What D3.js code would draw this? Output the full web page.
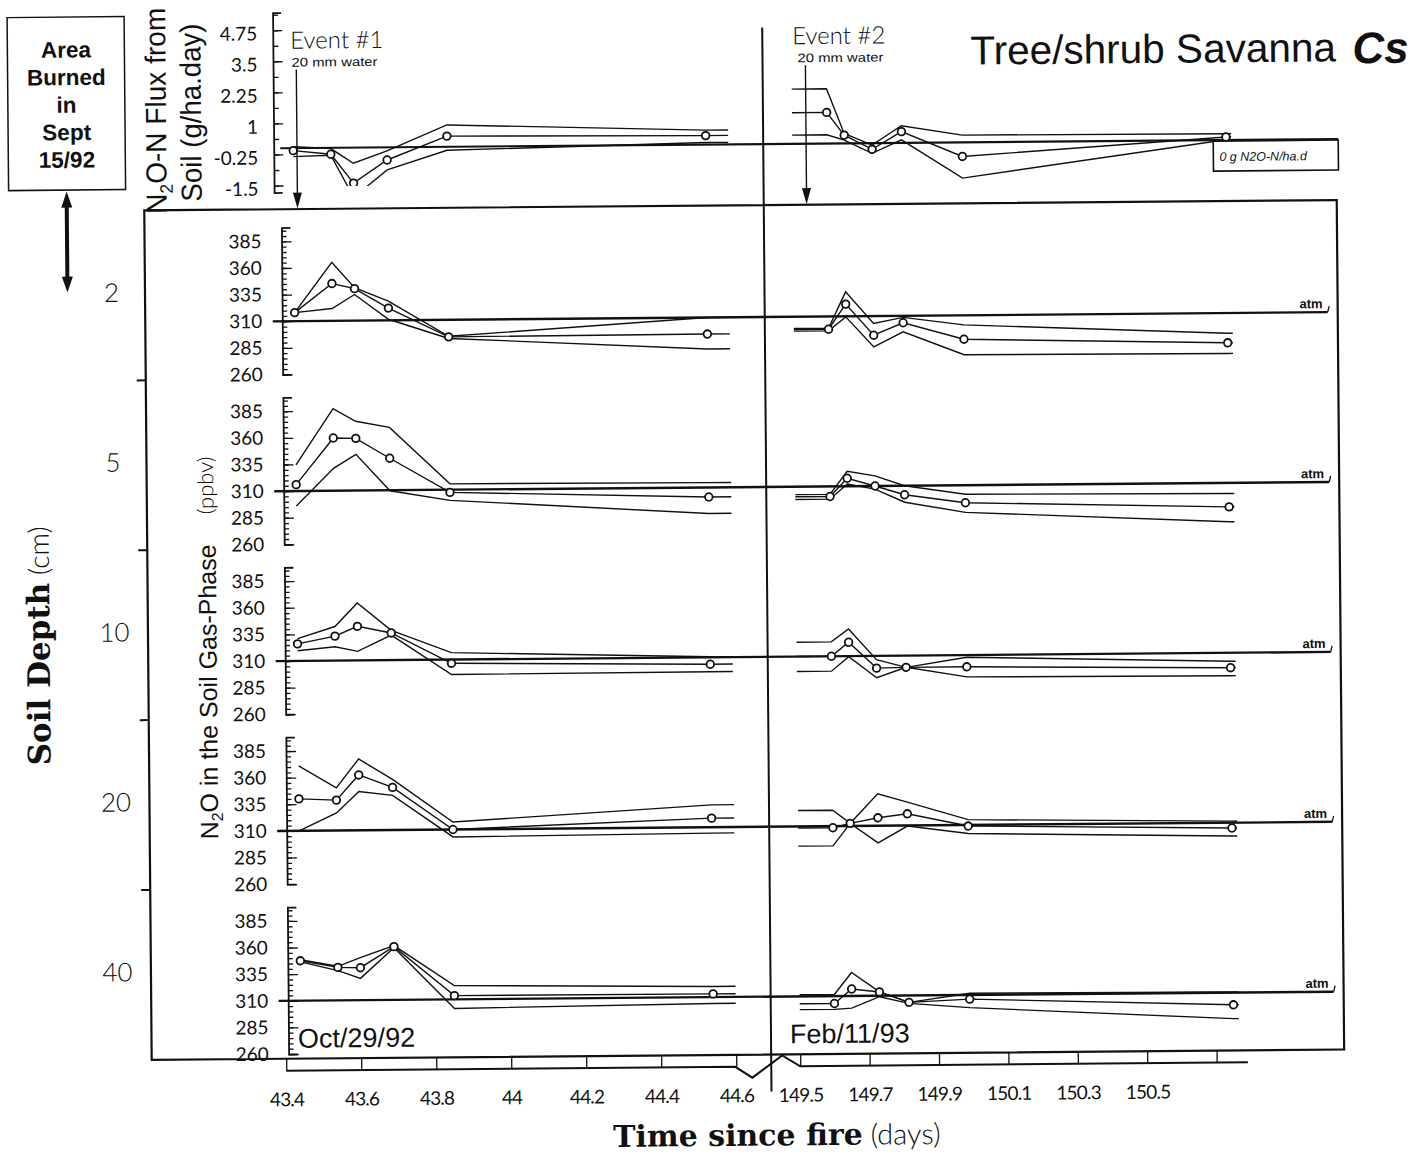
<!DOCTYPE html>
<html>
<head>
<meta charset="utf-8">
<script src="https://cdn.jsdelivr.net/npm/d3@7"></script>
<style>
  body { margin: 0; background: #fff; }
  svg { display: block; }
  text { fill: #111; }
  .hand { font-family: Lato, 'DejaVu Sans', sans-serif; font-weight: 300; }
  .sans { font-family: 'Liberation Sans', Arial, sans-serif; }
  .serif { font-family: 'DejaVu Serif', serif; font-weight: bold; }
  .axis path, .axis line { stroke: #111; }
  .axis path { stroke-width: 1.8; }
  .axis line { stroke-width: 1.3; }
  .axis text { font-family: Lato, 'DejaVu Sans', sans-serif; font-weight: 400; font-size: 19px; fill: #111; }
  .xaxis text { letter-spacing: -0.8px; }
</style>
</head>
<body>
<script>
// sampling times, days since fire
const days1 = [43.44, 43.54, 43.60, 43.69, 43.85, 44.54]
const days2 = [149.60, 149.65, 149.73, 149.815, 149.99, 150.75]
const lead2 = 149.5
const tail1 = 44.6
const tail2 = 150.765
const eventDays = [43.45, 149.54]
const eventNames = ['Event #1', 'Event #2']

const depths = ['2', '5', '10', '20', '40']
const ppbvTicks = [260, 285, 310, 335, 360, 385]
const fluxTicks = [-1.5, -0.25, 1, 2.25, 3.5, 4.75]
const leftTicks = [43.4, 43.6, 43.8, 44, 44.2, 44.4, 44.6]
const rightTicks = [149.5, 149.7, 149.9, 150.1, 150.3, 150.5, 150.7]
const rightTickLabels = ['149.5', '149.7', '149.9', '150.1', '150.3', '150.5', '']
const atm = 310

// N2O-N flux from soil (g/ha.day)
const fluxMean1 = [-0.1, -0.26, -1.43, -0.51, 0.43, 0.36]
const fluxUpper1 = [0.06, -0.03, -0.63, -0.14, 0.88, 0.58]
const fluxLower1 = [-0.34, -0.30, -2.0, -0.91, -0.14, 0.08]
const fluxMean2 = [1.25, 0.33, -0.25, 0.45, -0.57, 0.12]
const fluxUpper2 = [2.2, 0.4, -0.08, 0.69, 0.29, 0.25]
const fluxLower2 = [0.35, 0.13, -0.41, 0.12, -1.44, 0.01]

// N2O in soil gas (ppbv), one row per depth
const mean1 = [
  [318, 345, 340, 321.5, 294, 294.5],
  [316, 359.5, 359, 340, 307.5, 301],
  [326, 333, 342, 335.5, 306.5, 303.5],
  [340, 338.5, 362, 350, 310, 318.5],
  [347.5, 341, 340.5, 360, 313.5, 313]
]
const upper1 = [
  [318, 365, 341, 328, 294.5, 310],
  [334.5, 387, 375, 369, 315.5, 314.5],
  [331, 342, 364, 338, 316.5, 310.5],
  [371, 350, 377, 357.5, 317, 331],
  [348.5, 342, 350, 361, 323, 320]
]
const lower1 = [
  [318, 321.5, 334.5, 311, 292.5, 280.5],
  [296, 331, 344, 309.5, 300, 285.5],
  [319.5, 323, 318.5, 333.5, 296, 296.5],
  [310, 326.5, 346.5, 342.5, 303, 304.5],
  [346.5, 338, 330.5, 359, 301.5, 304]
]
const mean2 = [
  [298, 321.5, 292, 303.5, 287.5, 282],
  [300.5, 317.5, 310, 301.5, 293.5, 287.5],
  [310, 323, 298.5, 299, 299, 296],
  [308.5, 312.5, 317.5, 321, 309, 305],
  [303, 316.5, 313.5, 303.5, 306, 298.5]
]
const upper2 = [
  [299, 333, 303, 308.5, 301, 291],
  [302.5, 324, 319.5, 310, 301.5, 300],
  [323.5, 335.5, 306.5, 299, 308, 302],
  [325, 312.5, 340, 332, 315, 311.5],
  [311.5, 332, 313.5, 303.5, 311.5, 310.5]
]
const lower2 = [
  [296.5, 309.5, 281, 295, 273, 272],
  [298, 312, 307, 294.5, 284.5, 273.5],
  [296, 309.5, 289.5, 299, 289.5, 288.5],
  [291.5, 312.5, 294, 309.5, 302, 297.5],
  [297.5, 298.5, 309, 302.5, 298, 285.5]
]

const boxLines = ['Area', 'Burned', 'in', 'Sept', '15/92']

const svg = d3.select('body').append('svg').attr('width', 1424).attr('height', 1154)
// the scanned original sits a little crooked
const root = svg.append('g').attr('transform', 'rotate(-0.5,712,577)')

const frame = { left: 147.5, right: 1340, top: 205.5, bottom: 1055 }
const x1 = d3.scaleLinear().domain([43.4, 44.6]).range([282, 732])
const x2 = d3.scaleLinear().domain([149.5, 150.5]).range([796, 1143])
const band = d3.scaleBand().domain(depths).range([frame.top, frame.bottom])
const yFlux = d3.scaleLinear().domain([0, 1]).range([144.5, 119.65])
const panelY = d => {
  const b = band(d) + 112
  return d3.scaleLinear().domain([260, 398]).range([b + 53.25, b - 93.7])
}
const axisX = 284.5
const fluxAxisX = 278

function seriesPts (days, vals, lead, tail) {
  const pts = days.map((t, i) => [t, vals[i]])
  if (lead != null) pts.unshift([lead, vals[0]])
  pts.push([tail, vals[vals.length - 1]])
  return pts
}

function drawSet (sel, x, y, days, mean, upper, lower, lead, tail) {
  const line = d3.line().x(d => x(d[0])).y(d => y(d[1]))
  ;[upper, lower, mean].forEach(v => {
    sel.append('path')
      .attr('d', line(seriesPts(days, v, lead, tail)))
      .attr('fill', 'none')
      .attr('stroke', '#111')
      .attr('stroke-width', 1.4)
  })
  sel.selectAll(null).data(days).enter().append('circle')
    .attr('cx', d => x(d))
    .attr('cy', (d, i) => y(mean[i]))
    .attr('r', 3.8)
    .attr('fill', '#fff')
    .attr('stroke', '#111')
    .attr('stroke-width', 1.8)
}

// left box
root.append('rect').attr('x', 12).attr('y', 11.5).attr('width', 117).attr('height', 173)
  .attr('fill', 'none').attr('stroke', '#111').attr('stroke-width', 1.5)
root.selectAll(null).data(boxLines).enter().append('text')
  .attr('class', 'sans')
  .attr('x', 70.6)
  .attr('y', (d, i) => 52 + i * 27.5)
  .attr('text-anchor', 'middle')
  .attr('font-size', 22.5)
  .attr('font-weight', 'bold')
  .text(d => d)

// double arrow
root.append('line').attr('x1', 70).attr('x2', 70).attr('y1', 198).attr('y2', 275)
  .attr('stroke', '#111').attr('stroke-width', 4)
root.append('path').attr('d', 'M70,186 L64.5,202 L75.5,202 Z M70,287 L64.5,271 L75.5,271 Z').attr('fill', '#111')

// title
root.append('text').attr('class', 'sans').attr('x', 975).attr('y', 66.8)
  .attr('font-size', 40.5).text('Tree/shrub Savanna')
root.append('text').attr('class', 'sans').attr('x', 1357).attr('y', 68.8)
  .attr('font-size', 44).attr('font-weight', 'bold').attr('font-style', 'italic').text('Cs')

// frame and divider
root.append('rect').attr('x', frame.left).attr('y', frame.top)
  .attr('width', frame.right - frame.left).attr('height', frame.bottom - frame.top)
  .attr('fill', 'none').attr('stroke', '#111').attr('stroke-width', 2.2)
root.append('line').attr('x1', 767).attr('x2', 767).attr('y1', 28).attr('y2', 1092)
  .attr('stroke', '#111').attr('stroke-width', 2)

// depth axis
root.selectAll(null).data(depths.slice(0, -1)).enter().append('line')
  .attr('x1', frame.left - 9).attr('x2', frame.left)
  .attr('y1', d => band(d) + band.bandwidth()).attr('y2', d => band(d) + band.bandwidth())
  .attr('stroke', '#111').attr('stroke-width', 2)
root.selectAll(null).data(depths).enter().append('text')
  .attr('class', 'hand')
  .attr('x', 114)
  .attr('y', d => band(d) + 82)
  .attr('dy', '0.35em')
  .attr('text-anchor', 'middle')
  .attr('font-size', 26)
  .text(d => d)

const depthTitle = root.append('text').attr('transform', 'translate(49,640) rotate(-90)')
  .attr('text-anchor', 'middle')
depthTitle.append('tspan').attr('class', 'serif').attr('font-size', 31).text('Soil Depth')
depthTitle.append('tspan').attr('class', 'hand').attr('font-size', 28).text(' (cm)')

// gas-phase axis title
const gasTitle = root.append('text').attr('class', 'sans')
  .attr('transform', 'translate(216,835) rotate(-90)')
  .attr('font-size', 25).attr('textLength', 295).attr('lengthAdjust', 'spacingAndGlyphs')
gasTitle.append('tspan').text('N')
gasTitle.append('tspan').attr('font-size', 16).attr('dy', 5).text('2')
gasTitle.append('tspan').attr('dy', -5).text('O in the Soil Gas-Phase')
root.append('text').attr('class', 'hand').attr('transform', 'translate(214,510) rotate(-90)')
  .attr('font-size', 22).text('(ppbv)')

// flux axis title
const fluxTitle1 = root.append('text').attr('class', 'sans')
  .attr('transform', 'translate(170,106) rotate(-90)')
  .attr('text-anchor', 'middle')
  .attr('font-size', 29).attr('textLength', 206).attr('lengthAdjust', 'spacingAndGlyphs')
fluxTitle1.append('tspan').text('N')
fluxTitle1.append('tspan').attr('font-size', 18).attr('dy', 6).text('2')
fluxTitle1.append('tspan').attr('dy', -6).text('O-N Flux from')
root.append('text').attr('class', 'sans')
  .attr('transform', 'translate(205,108) rotate(-90)')
  .attr('text-anchor', 'middle')
  .attr('font-size', 29).attr('textLength', 178).attr('lengthAdjust', 'spacingAndGlyphs')
  .text('Soil  (g/ha.day)')

// flux panel
const fluxAxis = root.append('g').attr('class', 'axis').attr('transform', `translate(${fluxAxisX},0)`)
fluxAxis.call(d3.axisLeft(yFlux.copy().domain([-1.5, 1]).range([yFlux(-1.5), yFlux(1)]))
  .tickValues(d3.range(-1.5, 5.4, 0.625)).tickSize(-5).tickSizeOuter(0).tickFormat(''))
fluxAxis.append('path')
  .attr('d', `M-8,${yFlux(5.44)}H0V${yFlux(-1.8)}H-8`)
  .attr('fill', 'none').attr('stroke', '#111').attr('stroke-width', 1.8)
  .attr('transform', 'scale(-1,1)')
fluxAxis.append('g')
  .call(d3.axisLeft(yFlux).tickValues(fluxTicks).tickSize(-9).tickPadding(16).tickFormat(d => String(d)))
  .call(g => g.select('.domain').remove())
  .call(g => g.selectAll('text').attr('dy', '0.5em'))
fluxAxis.select('.domain').remove()

root.append('line').attr('x1', 284).attr('x2', 1342)
  .attr('y1', yFlux(0)).attr('y2', yFlux(0))
  .attr('stroke', '#111').attr('stroke-width', 2.2)

root.append('clipPath').attr('id', 'fluxClip').append('rect')
  .attr('x', 276).attr('y', 8).attr('width', 1070).attr('height', yFlux(-1.55) - 8)
const fluxG = root.append('g').attr('clip-path', 'url(#fluxClip)')
drawSet(fluxG, x1, yFlux, days1, fluxMean1, fluxUpper1, fluxLower1, null, tail1)
drawSet(fluxG, x2, yFlux, days2, fluxMean2, fluxUpper2, fluxLower2, lead2, tail2)

root.append('rect').attr('x', 1217).attr('y', yFlux(0) + 1).attr('width', 125).attr('height', 30)
  .attr('fill', '#fff').attr('stroke', '#111').attr('stroke-width', 1.6)
root.append('text').attr('class', 'sans').attr('x', 1223).attr('y', yFlux(0) + 21)
  .attr('font-size', 12.5).attr('font-style', 'italic').text('0 g N2O-N/ha.d')

// events
const eventLabelX = [295, 797]
const waterLabelX = [296, 802]
eventDays.forEach((e, i) => {
  const x = i === 0 ? x1(e) : x2(e)
  root.append('line').attr('x1', x).attr('x2', x).attr('y1', 66).attr('y2', 192)
    .attr('stroke', '#111').attr('stroke-width', 1.4)
  root.append('path').attr('d', `M${x},205 L${x - 4.5},189 L${x + 4.5},189 Z`).attr('fill', '#111')
  root.append('text').attr('class', 'hand').attr('x', eventLabelX[i]).attr('y', 45)
    .attr('font-size', 24).text(eventNames[i])
  root.append('text').attr('class', 'sans').attr('x', waterLabelX[i]).attr('y', 63)
    .attr('font-size', 12.5).attr('textLength', 86).attr('lengthAdjust', 'spacingAndGlyphs')
    .text('20 mm water')
})

// gas-phase panels
depths.forEach((d, k) => {
  const y = panelY(d)
  const ax = root.append('g').attr('class', 'axis').attr('transform', `translate(${axisX},0)`)
  ax.call(d3.axisLeft(y).tickValues(d3.range(260, 396, 5)).tickSize(-5).tickSizeOuter(-9).tickFormat(''))
  ax.append('g')
    .call(d3.axisLeft(y).tickValues(ppbvTicks).tickSize(-10).tickPadding(20))
    .call(g => g.select('.domain').remove())

  root.append('line').attr('x1', 275).attr('x2', 1330)
    .attr('y1', y(atm)).attr('y2', y(atm))
    .attr('stroke', '#111').attr('stroke-width', 2.4)
  root.append('line').attr('x1', 1330).attr('x2', 1331.5)
    .attr('y1', y(atm)).attr('y2', y(atm) - 6)
    .attr('stroke', '#111').attr('stroke-width', 1.3)
  root.append('text').attr('class', 'sans').attr('x', 1325).attr('y', y(atm) - 4)
    .attr('text-anchor', 'end').attr('font-size', 13).attr('font-weight', 'bold').text('atm')

  const g = root.append('g')
  drawSet(g, x1, y, days1, mean1[k], upper1[k], lower1[k], null, tail1)
  drawSet(g, x2, y, days2, mean2[k], upper2[k], lower2[k], lead2, tail2)
})

root.append('text').attr('class', 'sans').attr('x', 294).attr('y', 1044).attr('font-size', 27).text('Oct/29/92')
root.append('text').attr('class', 'sans').attr('x', 786).attr('y', 1044).attr('font-size', 27).text('Feb/11/93')

// broken time axis
const lowY = frame.bottom + 12
root.append('g').attr('class', 'axis xaxis').attr('transform', `translate(0,${frame.bottom})`)
  .call(d3.axisBottom(x1).tickValues(leftTicks).tickSize(12).tickPadding(22).tickFormat(d => String(d)))
  .call(g => g.select('.domain').remove())
root.append('g').attr('class', 'axis xaxis').attr('transform', `translate(0,${frame.bottom})`)
  .call(d3.axisBottom(x2).tickValues(rightTicks).tickSize(12).tickPadding(22).tickFormat((d, i) => rightTickLabels[i]))
  .call(g => g.select('.domain').remove())
const a = x1(44.6) - 1
const b = x2(149.5)
root.append('path')
  .attr('d', d3.line()([[x1(43.4), lowY], [a, lowY], [a + 17, lowY + 11], [a + 47, frame.bottom + 1], [b, lowY], [x2(150.79), lowY]]))
  .attr('fill', 'none').attr('stroke', '#111').attr('stroke-width', 2)

const xTitle = root.append('text').attr('x', 772).attr('y', 1146).attr('text-anchor', 'middle')
xTitle.append('tspan').attr('class', 'serif').attr('font-size', 30).text('Time since fire')
xTitle.append('tspan').attr('class', 'hand').attr('font-size', 29).text(' (days)')
</script>
</body>
</html>
